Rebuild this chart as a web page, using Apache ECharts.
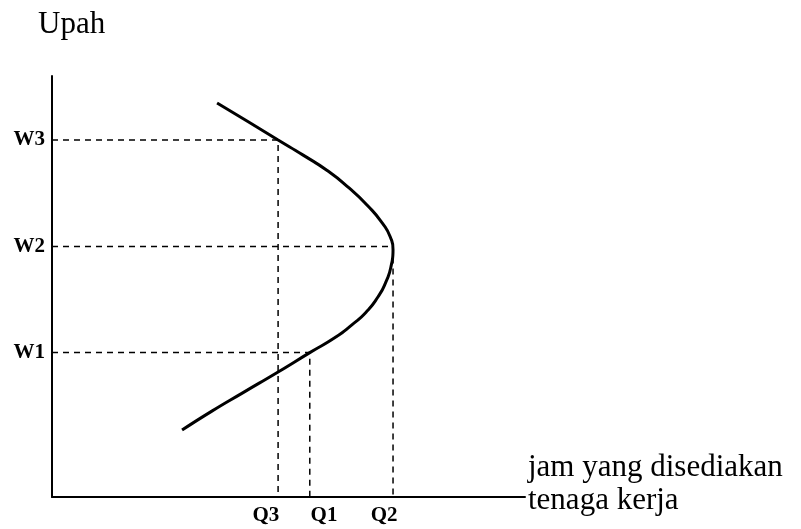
<!DOCTYPE html>
<html>
<head>
<meta charset="utf-8">
<script src="https://cdn.jsdelivr.net/npm/echarts@6/dist/echarts.min.js"></script>
<style>
  html, body { margin: 0; padding: 0; background: #fff; }
  #main { width: 801px; height: 529px; }
</style>
</head>
<body>
<div id="main"></div>
<script>
// kurva penawaran tenaga kerja (backward bending)
var curveX = [3.49, 4.14, 4.78, 5.31, 5.81, 6.28, 6.68, 6.98, 7.15, 7.21,
              7.17, 7.06, 6.89, 6.64, 6.34, 6.00, 5.45, 4.78, 4.04, 3.38, 2.75];
var curveY = [9.36, 8.92, 8.48, 8.12, 7.76, 7.34, 6.91, 6.51, 6.18, 5.87,
              5.49, 5.11, 4.75, 4.39, 4.09, 3.80, 3.43, 2.97, 2.48, 2.04, 1.59];

var wLevels = [3.43, 5.95, 8.48];
var wNames = ['W1', 'W2', 'W3'];
var qLevels = [5.45, 7.21, 4.78];
var qNames = ['Q1', 'Q2', 'Q3'];
var qLabelAt = [5.75, 7.02, 4.52];

var labelFont = 'Liberation Serif';

function nameFor(values, names, v) {
    for (var i = 0; i < values.length; i++) {
        if (Math.abs(values[i] - v) < 1e-6) return names[i];
    }
    return '';
}

var curveData = curveX.map(function (x, i) { return [x, curveY[i]]; });

var dashed = wLevels.map(function (w, i) {
    return {
        type: 'line',
        data: [[0, w], [qLevels[i], w], [qLevels[i], 0]],
        symbol: 'none',
        silent: true,
        lineStyle: { color: '#000', width: 1.5, type: [6, 5] },
        z: 1
    };
});

var chart = echarts.init(document.getElementById('main'));
chart.setOption({
    animation: false,
    backgroundColor: '#fff',
    grid: { left: 52, right: 276, top: 76, bottom: 32 },
    xAxis: {
        type: 'value', min: 0, max: 10,
        splitLine: { show: false },
        axisTick: { show: false },
        axisLine: { lineStyle: { color: '#000', width: 2 } },
        axisLabel: {
            customValues: qLabelAt,
            margin: 8,
            color: '#000',
            fontFamily: labelFont,
            fontWeight: 'bold',
            fontSize: 21,
            formatter: function (v) { return nameFor(qLabelAt, qNames, v); }
        }
    },
    yAxis: {
        type: 'value', min: 0, max: 10,
        splitLine: { show: false },
        axisTick: { show: false },
        axisLine: { lineStyle: { color: '#000', width: 2 } },
        axisLabel: {
            customValues: wLevels,
            margin: 7,
            color: '#000',
            fontFamily: labelFont,
            fontWeight: 'bold',
            fontSize: 21,
            formatter: function (v) { return nameFor(wLevels, wNames, v); }
        }
    },
    graphic: [
        {
            type: 'text', left: 38, top: 9,
            style: { text: 'Upah', fill: '#000', font: '31px "Liberation Serif"' }
        },
        {
            type: 'text', left: 528, top: 451,
            style: {
                text: 'jam yang disediakan\ntenaga kerja',
                fill: '#000', font: '31px "Liberation Serif"', lineHeight: 33
            }
        }
    ],
    series: dashed.concat([{
        type: 'line',
        data: curveData,
        smooth: 0.6,
        symbol: 'none',
        lineStyle: { color: '#000', width: 3 },
        z: 3
    }])
});
</script>
</body>
</html>
